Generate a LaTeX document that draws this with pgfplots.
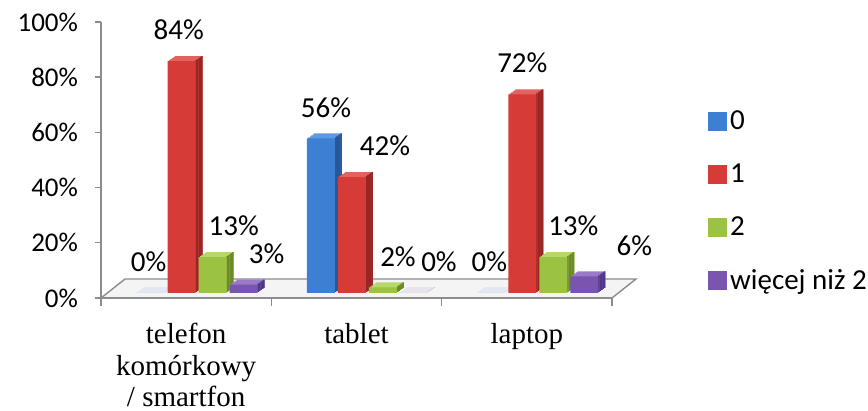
\documentclass[border=0pt]{standalone}
\usepackage{pgfplots}
\pgfplotsset{compat=1.18}
\usepackage{pgfplotstable}
\usepackage{fontspec}
\setmainfont{Carlito}
\newfontfamily\serifcat{Liberation Serif}
\definecolor{axgray}{HTML}{8C8C8C}
\definecolor{floorfill}{HTML}{F4F4F4}
\definecolor{blueF}{HTML}{3C7FD3}
\definecolor{blueT}{HTML}{5E9AE2}
\definecolor{blueS}{HTML}{28589A}
\definecolor{redF}{HTML}{D63B37}
\definecolor{redT}{HTML}{E2625E}
\definecolor{redS}{HTML}{9A2624}
\definecolor{greenF}{HTML}{9CC243}
\definecolor{greenT}{HTML}{B6D76C}
\definecolor{greenS}{HTML}{6C8A28}
\definecolor{purpleF}{HTML}{7A55B0}
\definecolor{purpleT}{HTML}{9979C8}
\definecolor{purpleS}{HTML}{513788}

% x = category (0 telefon, 1 tablet, 2 laptop), y = percent, dx = label offset (pt)
\pgfplotstableread{
x y dx
0 0 -1
1 56 2.5
2 0 -1
}\tblA
\pgfplotstableread{
x y dx
0 84 -1.5
1 42 16.5
2 72 0
}\tblB
\pgfplotstableread{
x y dx
0 13 10.5
1 2 7.5
2 13 10
}\tblC
\pgfplotstableread{
x y dx
0 3 11.5
1 0 12.5
2 6 25
}\tblD

\newcommand\lblfont{\fontsize{13.5}{16}\selectfont}
\newcommand\datfont{\fontsize{14.5}{17}\selectfont}

% #1 table, #2 bar shift (pt number), #3 front, #4 top, #5 side colour
\newcommand\barseries[5]{%
  \pgfplotsinvokeforeach{1,2,3,4,5}{%
    \addplot[ybar, forget plot, draw=none, fill=#4, bar width=14pt,
      bar shift={(#2+##1*0.7)*1pt}, yshift={2.5pt+##1*0.5pt}]
      table[x=x,y=y]{#1};
  }%
  \pgfplotsinvokeforeach{1,2,3,4,5}{%
    \addplot[ybar, forget plot, draw=none, fill=#5, bar width=0.8pt,
      bar shift={(#2+7+##1*0.7-0.4)*1pt}, yshift={2.5pt+##1*0.5pt}]
      table[x=x,y=y]{#1};
  }%
  \addplot[ybar, forget plot, draw=none, fill=#3, bar width=14pt,
    bar shift={#2pt}, yshift=2.5pt,
    visualization depends on={\thisrow{dx}\as\labdx},
    nodes near coords={\pgfmathprintnumber{\pgfplotspointmeta}\%},
    every node near coord/.append style={anchor=south, font=\datfont,
      text=black, xshift={(#2+\labdx)*1pt}, yshift=7pt}]
    table[x=x,y=y]{#1};
}

\begin{document}
\begin{tikzpicture}
\begin{axis}[
  set layers,
  at={(0,0)}, anchor=south west,
  scale only axis, width=255.5pt, height=138pt,
  xmin=-0.5, xmax=2.5, ymin=0, ymax=100,
  enlargelimits=false, clip=false,
  axis x line*=bottom, axis y line*=left,
  axis line style={draw=axgray, line width=0.7pt},
  tick style={draw=axgray, line width=0.7pt},
  tick align=outside,
  major tick length=3pt, minor tick length=4pt,
  ytick={0,20,40,60,80,100},
  yticklabel={\pgfmathprintnumber{\tick}\%},
  yticklabel style={font=\lblfont, xshift=-5pt},
  /pgf/number format/assume math mode=true,
  xtick={0,1,2},
  xticklabels={{telefon\\komórkowy\\/ smartfon},{tablet},{laptop}},
  xticklabel style={font=\serifcat\fontsize{14.5}{15.8}\selectfont, align=center, yshift=-6pt},
  major x tick style={draw=none},
  minor xtick={-0.5,0.5,1.5,2.5},
  legend style={at={(1,0.35)}, anchor=west, xshift=45pt, draw=none, fill=none,
    font=\datfont, row sep=12.6pt, nodes={inner sep=1.5pt}},
  legend cell align=left,
]
\pgfonlayer{axis background}
\fill[floorfill] (rel axis cs:0,0) -- ([shift={(12pt,9.5pt)}]rel axis cs:0,0)
  -- ([shift={(12pt,9.5pt)}]rel axis cs:1,0) -- (rel axis cs:1,0) -- cycle;
\draw[axgray, line width=0.7pt] (rel axis cs:0,0) -- ([shift={(12pt,9.5pt)}]rel axis cs:0,0)
  -- ([shift={(12pt,9.5pt)}]rel axis cs:1,0) -- (rel axis cs:1,0);
\endpgfonlayer

\barseries{\tblA}{-17.75}{blueF}{blueT}{blueS}
\barseries{\tblB}{-2.25}{redF}{redT}{redS}
\barseries{\tblC}{13.25}{greenF}{greenT}{greenS}
\barseries{\tblD}{28.75}{purpleF}{purpleT}{purpleS}

\addlegendimage{legend image code/.code={\fill[blueF] (0pt,-4.5pt) rectangle (9pt,4.5pt);}}
\addlegendentry{0}
\addlegendimage{legend image code/.code={\fill[redF] (0pt,-4.5pt) rectangle (9pt,4.5pt);}}
\addlegendentry{1}
\addlegendimage{legend image code/.code={\fill[greenF] (0pt,-4.5pt) rectangle (9pt,4.5pt);}}
\addlegendentry{2}
\addlegendimage{legend image code/.code={\fill[purpleF] (0pt,-4.5pt) rectangle (9pt,4.5pt);}}
\addlegendentry{więcej niż 2}
\end{axis}
\pgfresetboundingbox
\path[use as bounding box] (-50.5pt,-56.5pt) rectangle (383.5pt,149pt);
\end{tikzpicture}
\end{document}
